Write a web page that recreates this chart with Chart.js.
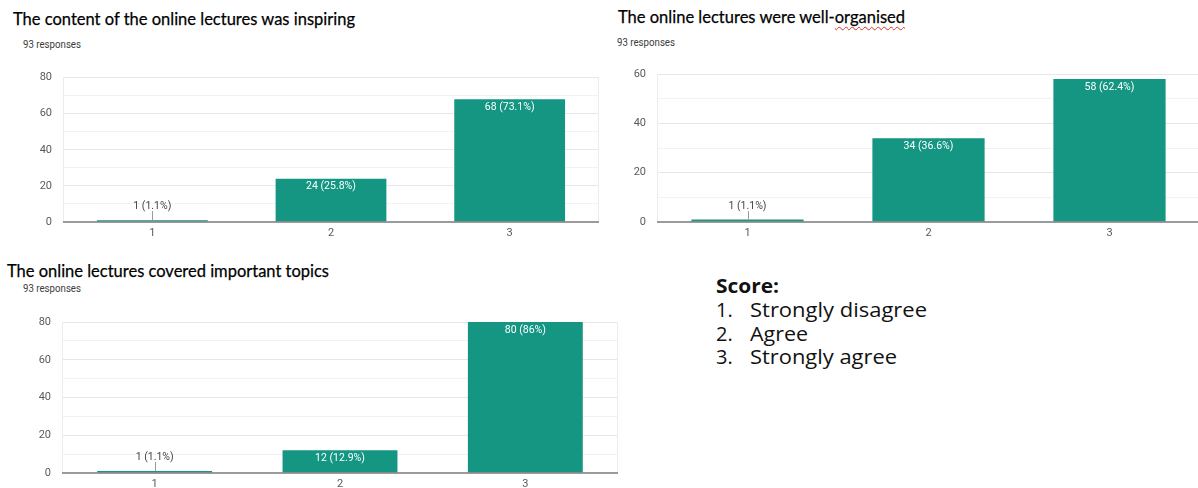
<!DOCTYPE html>
<html><head><meta charset="utf-8">
<script src="https://cdn.jsdelivr.net/npm/chart.js@4/dist/chart.umd.min.js"></script>
<style>
html,body{margin:0;padding:0;width:1198px;height:488px;overflow:hidden;background:#fff;position:relative;}
.abs{position:absolute;white-space:nowrap;line-height:1;transform-origin:0 50%;}
.title{font-family:Lato,"Open Sans",sans-serif;font-size:18px;color:#000;-webkit-text-stroke:0.25px #000;}
.resp{font-family:Roboto,"Liberation Sans",sans-serif;font-size:10px;color:#3c3c3c;}
.score{font-family:"Open Sans",sans-serif;font-size:20px;color:#111;}
.wavy{text-decoration:underline wavy #d93025;text-decoration-thickness:1px;text-underline-offset:3px;}
canvas{position:absolute;}
</style></head>
<body>
<div class="abs title" data-w="342" style="left:13px;top:9px;">The content of the online lectures was inspiring</div>
<div class="abs title" data-w="287" style="left:618px;top:7px;">The online lectures were well-<span class="wavy">organised</span></div>
<div class="abs title" data-w="322" style="left:7px;top:261px;">The online lectures covered important topics</div>

<div class="abs resp" data-w="58" style="left:23px;top:40px;">93 responses</div>
<div class="abs resp" data-w="58" style="left:617px;top:38px;">93 responses</div>
<div class="abs resp" data-w="58" style="left:23px;top:284px;">93 responses</div>

<div class="abs score" data-w="63" style="left:716px;top:276px;font-weight:700;">Score:</div>
<div class="abs score" style="left:716px;top:300px;">1.</div>
<div class="abs score" data-w="177" style="left:750px;top:300px;">Strongly disagree</div>
<div class="abs score" style="left:716px;top:324px;">2.</div>
<div class="abs score" data-w="58" style="left:750px;top:324px;">Agree</div>
<div class="abs score" style="left:716px;top:347px;">3.</div>
<div class="abs score" data-w="147" style="left:750px;top:347px;">Strongly agree</div>

<canvas id="c1" width="600" height="190" style="left:0px;top:60px;"></canvas>
<canvas id="c2" width="600" height="195" style="left:600px;top:55px;"></canvas>
<canvas id="c3" width="620" height="201" style="left:0px;top:300px;"></canvas>

<script>
// ---- data ----
const categories = ['1', '2', '3'];
const totalResponses = 93;
const inspiringValues = [1, 24, 68];
const organisedValues = [1, 34, 58];
const topicsValues = [1, 12, 80];
const inspiringMax = 80;
const organisedMax = 60;
const topicsMax = 80;
const labelStep = 20;
const gridStep = 10;

// ---- style ----
const barColor = '#149683';
Chart.defaults.font.family = 'Roboto, "Liberation Sans", Arial, sans-serif';
Chart.defaults.font.size = 11;
Chart.defaults.color = '#5a5a5a';

const valueLabels = {
  id: 'valueLabels',
  beforeDatasetsDraw(chart) {
    const {ctx, chartArea} = chart;
    ctx.save();
    ctx.strokeStyle = '#ececec';
    ctx.lineWidth = 1;
    ctx.beginPath();
    ctx.moveTo(Math.round(chartArea.left) + 0.5, chartArea.top);
    ctx.lineTo(Math.round(chartArea.left) + 0.5, chartArea.bottom);
    ctx.moveTo(Math.round(chartArea.right) - 0.5, chartArea.top);
    ctx.lineTo(Math.round(chartArea.right) - 0.5, chartArea.bottom);
    ctx.stroke();
    ctx.restore();
  },
  afterDatasetsDraw(chart) {
    const {ctx, chartArea} = chart;
    const meta = chart.getDatasetMeta(0);
    const ds = chart.data.datasets[0];
    const base = chart.scales.y.getPixelForValue(0);
    ctx.save();
    ctx.strokeStyle = '#7a7a7a';
    ctx.lineWidth = 1.5;
    ctx.beginPath();
    ctx.moveTo(chartArea.left, base);
    ctx.lineTo(chartArea.right, base);
    ctx.stroke();
    ctx.font = '10.5px Roboto, "Liberation Sans", Arial, sans-serif';
    ctx.textAlign = 'center';
    ctx.textBaseline = 'middle';
    meta.data.forEach((bar, i) => {
      const v = ds.data[i];
      const pct = +(v / totalResponses * 100).toFixed(1);
      const txt = v + ' (' + pct + '%)';
      if (base - bar.y > 20) {
        ctx.fillStyle = '#ffffff';
        ctx.fillText(txt, bar.x, bar.y + 8);
      } else {
        const lx = Math.round(bar.x) + 0.5;
        ctx.strokeStyle = '#9a9a9a';
        ctx.lineWidth = 1;
        ctx.beginPath();
        ctx.moveTo(lx, base - 11);
        ctx.lineTo(lx, bar.y);
        ctx.stroke();
        ctx.fillStyle = '#444444';
        ctx.fillText(txt, bar.x, base - 16);
      }
    });
    ctx.restore();
  }
};

function makeChart(id, values, yMax, yWidth, pad) {
  return new Chart(document.getElementById(id), {
    type: 'bar',
    data: {
      labels: categories,
      datasets: [{ data: values, backgroundColor: barColor, borderWidth: 0,
                   barPercentage: 0.62, categoryPercentage: 1 }]
    },
    options: {
      responsive: false,
      animation: false,
      events: [],
      layout: { padding: pad },
      plugins: { legend: { display: false }, tooltip: { enabled: false } },
      scales: {
        x: {
          grid: { display: false, drawTicks: false },
          border: { display: false },
          ticks: { padding: 5, color: '#5a5a5a' },
          afterFit(s) { s.height = 28; }
        },
        y: {
          min: 0, max: yMax,
          grid: {
            drawTicks: false,
            color: c => c.tick.value === 0 ? 'rgba(0,0,0,0)' :
                        (c.tick.value % labelStep === 0 ? '#e7e7e7' : '#f2f2f2')
          },
          border: { display: false },
          ticks: {
            stepSize: gridStep, autoSkip: false, padding: 11, color: '#5a5a5a',
            callback: v => (v % labelStep === 0 ? v : '')
          },
          afterFit(s) { s.width = yWidth; }
        }
      }
    },
    plugins: [valueLabels]
  });
}

makeChart('c1', inspiringValues, inspiringMax, 63, {top: 17, right: 1, left: 0, bottom: 0});
makeChart('c2', organisedValues, organisedMax, 57, {top: 19, right: 0, left: 0, bottom: 0});
makeChart('c3', topicsValues, topicsMax, 62, {top: 22, right: 2, left: 0, bottom: 0});

function fitTexts() {
  document.querySelectorAll('[data-w]').forEach(el => {
    el.style.transform = 'none';
    const w = el.getBoundingClientRect().width;
    if (w > 0) el.style.transform = 'scaleX(' + (el.dataset.w / w) + ')';
  });
}
fitTexts();
if (document.fonts && document.fonts.ready) document.fonts.ready.then(fitTexts);
</script>
</body></html>
